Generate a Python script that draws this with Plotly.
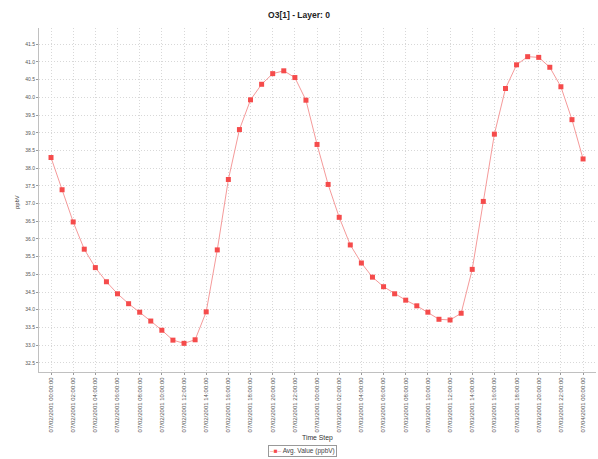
import pandas as pd
import plotly.graph_objects as go

start_time = "2001-07-02 00:00:00"
n_steps = 49
values = [38.30, 37.39, 36.48, 35.71, 35.19, 34.79, 34.45, 34.17, 33.93, 33.68,
          33.42, 33.14, 33.05, 33.15, 33.94, 35.69, 37.68, 39.09, 39.93, 40.37,
          40.67, 40.75, 40.56, 39.92, 38.67, 37.54, 36.61, 35.83, 35.32, 34.92,
          34.65, 34.45, 34.27, 34.11, 33.93, 33.73, 33.71, 33.90, 35.14, 37.06,
          38.96, 40.25, 40.92, 41.15, 41.13, 40.85, 40.30, 39.37, 38.26]
times = pd.date_range(start_time, periods=n_steps, freq="h")

title_text = "O3[1] - Layer: 0"
series_name = "Avg. Value (ppbV)"
x_title = "Time Step"
y_title = "ppbV"

font_family = "Liberation Sans, Arial, sans-serif"
tick_col = "#555555"
line_col = "#f59a9a"
marker_col = "#f54b4b"
fmt = "%Y-%m-%d %H:%M:%S"

fig = go.Figure()
fig.add_trace(go.Scatter(
    x=times, y=values, mode="lines+markers", name=series_name,
    line=dict(color=line_col, width=1),
    marker=dict(symbol="square", size=5, color=marker_col),
    showlegend=False,
))

lo = min(values); hi = max(values); span = hi - lo
x0 = (times[0] - pd.Timedelta(minutes=65)).strftime(fmt)
x1 = (times[-1] + pd.Timedelta(minutes=70)).strftime(fmt)

fig.update_layout(
    width=598, height=459,
    margin=dict(l=39, r=2, t=28, b=87, autoexpand=False),
    paper_bgcolor="white", plot_bgcolor="white",
    font=dict(family=font_family, size=7, color=tick_col),
    title=dict(text="<b>" + title_text + "</b>", x=0.5, xanchor="center",
               y=1 - 15 / 459, yanchor="middle",
               font=dict(size=8.5, color="#222222", family=font_family)),
    showlegend=False,
)
fig.update_xaxes(
    type="date", automargin=False,
    range=[x0, x1],
    tick0=times[0].strftime(fmt), dtick=2 * 3600 * 1000,
    tickformat="%m/%d/%Y %H:%M:%S", tickangle=-90,
    showgrid=True, gridcolor="#d8d8d8", griddash="1px,2px", gridwidth=1,
    showline=True, linecolor="#c0c0c0", linewidth=1,
    ticks="outside", ticklen=2, tickcolor="#999999",
    tickfont=dict(size=6.0, color=tick_col),
    zeroline=False,
)
fig.update_yaxes(
    automargin=False,
    range=[lo - 0.1 * span, hi + 0.1 * span],
    tick0=32.5, dtick=0.5, tickformat=".1f",
    showgrid=True, gridcolor="#d8d8d8", griddash="1px,2px", gridwidth=1,
    showline=True, linecolor="#c0c0c0", linewidth=1,
    ticks="outside", ticklen=2, tickcolor="#999999",
    tickfont=dict(size=5, color=tick_col),
    zeroline=False,
)
fig.add_annotation(text=x_title, xref="paper", yref="paper", x=(317 - 39) / 557, y=-(438 - 372) / 344,
                   showarrow=False, yanchor="middle", font=dict(size=6.8, color="#333333"))
fig.add_annotation(text=y_title, xref="paper", yref="paper", x=-(39 - 17) / 557, y=(372 - 202) / 344,
                   showarrow=False, textangle=-90, xanchor="center", yanchor="middle",
                   font=dict(size=5.8, color="#333333"))
# legend box
legend_text = ("<span style='color:%s'>–</span><span style='color:%s'>■</span>"
               "<span style='color:%s'>–</span> %s" % (line_col, marker_col, line_col, series_name))
fig.add_annotation(text=legend_text, xref="paper", yref="paper", x=(302 - 39) / 557,
                   y=-(451 - 372) / 344, showarrow=False, xanchor="center", yanchor="middle",
                   bordercolor="#999999", borderwidth=1, borderpad=1, bgcolor="white",
                   font=dict(size=6.5, color="#444444"))

fig.write_html("out.html", config={"displayModeBar": False},
               post_script="document.body.style.margin='0';document.body.style.overflow='hidden';")
